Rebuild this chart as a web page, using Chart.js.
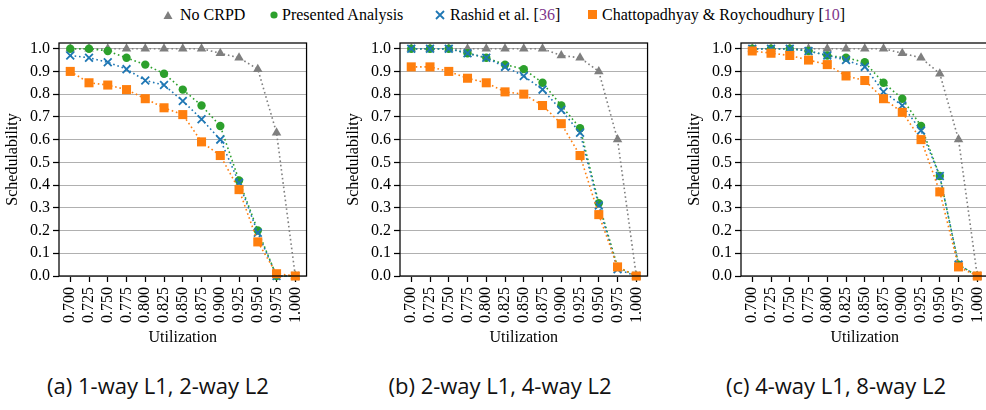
<!DOCTYPE html>
<html>
<head>
<meta charset="utf-8">
<script src="https://cdn.jsdelivr.net/npm/chart.js@4.4.1/dist/chart.umd.min.js"></script>
<style>
  body { margin: 0; width: 986px; height: 410px; overflow: hidden; background: #fff; position: relative; font-family: "Liberation Serif", serif; }
  canvas { position: absolute; top: 0; }
  .lg { position: absolute; top: 5px; font-size: 16px; line-height: 20px; white-space: nowrap; color: #000; }
  .mk { position: absolute; }
  .ref { color: #80368c; }
  .cap { position: absolute; top: 371px; width: 340px; text-align: center; font-family: "Open Sans", sans-serif; font-size: 22px; line-height: 28px; white-space: nowrap; color: #111; }
</style>
</head>
<body>
<svg class="mk" style="left:163px;top:10px" width="10" height="10"><polygon points="5,1 9.5,9 0.5,9" fill="#7f7f7f"/></svg>
<div class="lg" style="left:180px">No CRPD</div>
<svg class="mk" style="left:270px;top:11px" width="8" height="8"><circle cx="4" cy="4" r="3.6" fill="#2ca02c"/></svg>
<div class="lg" style="left:282px">Presented Analysis</div>
<svg class="mk" style="left:435px;top:10px" width="10" height="10"><path d="M1,1 L9,9 M9,1 L1,9" stroke="#1f77b4" stroke-width="1.8"/></svg>
<div class="lg" style="left:450px">Rashid et al. [<span class="ref">36</span>]</div>
<svg class="mk" style="left:588px;top:10px" width="9" height="9"><rect x="0" y="0" width="9" height="9" fill="#ff7f0e"/></svg>
<div class="lg" style="left:602px">Chattopadhyay &amp; Roychoudhury [<span class="ref">10</span>]</div>

<canvas id="chartA" width="320" height="350" style="left:0px"></canvas>
<canvas id="chartB" width="320" height="350" style="left:341px"></canvas>
<canvas id="chartC" width="320" height="350" style="left:682px"></canvas>

<div class="cap" style="left:-12px">(a) 1-way L1, 2-way L2</div>
<div class="cap" style="left:330px">(b) 2-way L1, 4-way L2</div>
<div class="cap" style="left:666px">(c) 4-way L1, 8-way L2</div>

<script>
const utilization = [0.700, 0.725, 0.750, 0.775, 0.800, 0.825, 0.850, 0.875, 0.900, 0.925, 0.950, 0.975, 1.000];
const yTicks = [0.0, 0.1, 0.2, 0.3, 0.4, 0.5, 0.6, 0.7, 0.8, 0.9, 1.0];

// (a) 1-way L1, 2-way L2
const noCrpdA     = [1.00, 1.00, 1.00, 1.00, 1.00, 1.00, 1.00, 1.00, 0.98, 0.96, 0.91, 0.63, 0.00];
const presentedA  = [1.00, 1.00, 0.99, 0.96, 0.93, 0.89, 0.82, 0.75, 0.66, 0.42, 0.20, 0.00, 0.00];
const rashidA     = [0.97, 0.96, 0.94, 0.91, 0.86, 0.84, 0.77, 0.69, 0.60, 0.41, 0.19, 0.00, 0.00];
const chattoA     = [0.90, 0.85, 0.84, 0.82, 0.78, 0.74, 0.71, 0.59, 0.53, 0.38, 0.15, 0.01, 0.00];

// (b) 2-way L1, 4-way L2
const noCrpdB     = [1.00, 1.00, 1.00, 1.00, 1.00, 1.00, 1.00, 1.00, 0.97, 0.96, 0.90, 0.60, 0.00];
const presentedB  = [1.00, 1.00, 1.00, 0.98, 0.96, 0.93, 0.91, 0.85, 0.75, 0.65, 0.32, 0.04, 0.00];
const rashidB     = [1.00, 1.00, 1.00, 0.98, 0.96, 0.92, 0.88, 0.82, 0.73, 0.63, 0.31, 0.03, 0.00];
const chattoB     = [0.92, 0.92, 0.90, 0.87, 0.85, 0.81, 0.80, 0.75, 0.67, 0.53, 0.27, 0.04, 0.00];

// (c) 4-way L1, 8-way L2
const noCrpdC     = [1.00, 1.00, 1.00, 1.00, 1.00, 1.00, 1.00, 1.00, 0.98, 0.96, 0.89, 0.60, 0.00];
const presentedC  = [1.00, 1.00, 1.00, 0.99, 0.97, 0.96, 0.94, 0.85, 0.78, 0.66, 0.44, 0.05, 0.00];
const rashidC     = [1.00, 1.00, 1.00, 0.99, 0.97, 0.95, 0.92, 0.81, 0.75, 0.64, 0.44, 0.05, 0.00];
const chattoC     = [0.99, 0.98, 0.97, 0.95, 0.93, 0.88, 0.86, 0.78, 0.72, 0.60, 0.37, 0.04, 0.00];

Chart.defaults.font.family = "Liberation Serif";
Chart.defaults.font.size = 16;
Chart.defaults.color = "#000";
const serif = { family: "Liberation Serif", size: 16 };

// matplotlib-style box round the plot area
const frame = {
    id: "frame",
    afterDraw(chart) {
        const { ctx, chartArea: a } = chart;
        ctx.save();
        ctx.strokeStyle = "#000";
        ctx.lineWidth = 1.25;
        ctx.strokeRect(a.left, a.top, a.right - a.left, a.bottom - a.top);
        ctx.restore();
    }
};

function series(values, color, style, radius, order) {
    return {
        data: utilization.map((u, i) => ({ x: u, y: values[i] })),
        borderColor: color,
        backgroundColor: color,
        borderWidth: 1.6,
        borderDash: [1.6, 2.8],
        borderCapStyle: "butt",
        pointStyle: style,
        pointRadius: radius,
        pointBorderWidth: style === "crossRot" ? 1.8 : 0,
        pointBackgroundColor: color,
        pointBorderColor: color,
        fill: false,
        tension: 0,
        clip: false,
        order: order
    };
}

function makeChart(id, noCrpd, presented, rashid, chatto) {
    new Chart(document.getElementById(id), {
        type: "line",
        data: {
            datasets: [
                series(noCrpd, "#7f7f7f", "triangle", 5.5, 3),
                series(presented, "#2ca02c", "circle", 4.2, 2),
                series(rashid, "#1f77b4", "crossRot", 5.5, 1),
                series(chatto, "#ff7f0e", "rect", 6.4, 0)
            ]
        },
        options: {
            responsive: false,
            animation: false,
            layout: { padding: { top: 43, right: 11, left: 0, bottom: 0 } },
            plugins: { legend: { display: false }, tooltip: { enabled: false } },
            scales: {
                x: {
                    type: "linear",
                    min: 0.685,
                    max: 1.015,
                    afterBuildTicks: s => { s.ticks = utilization.map(v => ({ value: v })); },
                    afterFit: s => { s.height = 74; },
                    ticks: {
                        autoSkip: false,
                        minRotation: 90,
                        maxRotation: 90,
                        padding: 5,
                        color: "#000",
                        font: serif,
                        callback: v => v.toFixed(3)
                    },
                    grid: { drawOnChartArea: false, tickLength: 6, tickColor: "#000", tickWidth: 1.25 },
                    border: { display: false },
                    title: { display: true, text: "Utilization", color: "#000", font: serif, padding: { top: 0, bottom: 3 } }
                },
                y: {
                    min: 0,
                    max: 1.025,
                    afterBuildTicks: s => { s.ticks = yTicks.map(v => ({ value: v })); },
                    afterFit: s => { s.width = 59; },
                    ticks: { padding: 3, color: "#000", font: serif, callback: v => v.toFixed(1) },
                    grid: { color: "#b0b0b0", lineWidth: 1, tickLength: 6, tickColor: "#000", tickWidth: 1.25 },
                    border: { display: false },
                    title: { display: true, text: "Schedulability", color: "#000", font: serif, padding: { top: 3, bottom: 0 } }
                }
            }
        },
        plugins: [frame]
    });
}

makeChart("chartA", noCrpdA, presentedA, rashidA, chattoA);
makeChart("chartB", noCrpdB, presentedB, rashidB, chattoB);
makeChart("chartC", noCrpdC, presentedC, rashidC, chattoC);
</script>
</body>
</html>
